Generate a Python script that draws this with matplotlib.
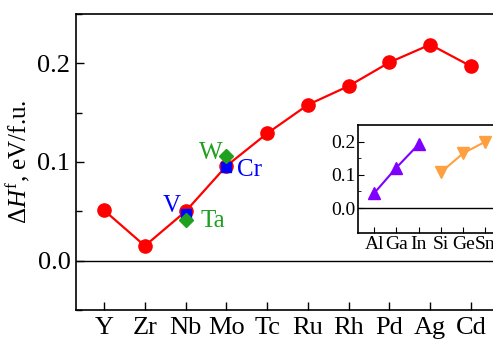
import matplotlib
matplotlib.use('Agg')
import matplotlib.pyplot as plt

plt.rcParams['font.family'] = ['Liberation Serif', 'DejaVu Serif']
plt.rcParams['mathtext.fontset'] = 'custom'
plt.rcParams['mathtext.rm'] = 'Liberation Serif'
plt.rcParams['mathtext.it'] = 'Liberation Serif:italic'

# main series
metals = ['Y', 'Zr', 'Nb', 'Mo', 'Tc', 'Ru', 'Rh', 'Pd', 'Ag', 'Cd']
dH = [0.051, 0.015, 0.050, 0.096, 0.129, 0.158, 0.177, 0.201, 0.219, 0.197]

# substitutions
blue_names = ['V', 'Cr']
blue_pos = [2, 3]
blue_vals = [0.047, 0.095]
green_names = ['Ta', 'W']
green_pos = [2, 3]
green_vals = [0.041, 0.106]

# inset
grp13 = ['Al', 'Ga', 'In']
grp13_vals = [0.045, 0.122, 0.192]
grp14 = ['Si', 'Ge', 'Sn']
grp14_vals = [0.108, 0.165, 0.200]

fig = plt.figure(figsize=(4.93, 3.39), dpi=100)
ax = fig.add_axes([76 / 493, 29 / 339, 1.005 - 76 / 493, 296 / 339])

x = list(range(len(metals)))
ax.plot(x, dH, '-o', color='red', lw=1.6, ms=9.5, zorder=3)
ax.axhline(0, color='black', lw=1)
ax.plot(blue_pos, blue_vals, 's', color='blue', ms=7, zorder=4)
ax.plot(green_pos, green_vals, 'D', color='#1fa01f', ms=7, zorder=4)

ax.text(1.67, 0.055, blue_names[0], color='blue', fontsize=18, ha='center', va='center')
ax.text(3.57, 0.092, blue_names[1], color='blue', fontsize=18, ha='center', va='center')
ax.text(2.66, 0.040, green_names[0], color='#1fa01f', fontsize=18, ha='center', va='center')
ax.text(2.62, 0.109, green_names[1], color='#1fa01f', fontsize=18, ha='center', va='center')

ax.set_xlim(-0.69, 9.6)
ax.set_ylim(-0.05, 0.25)
ax.set_xticks(x)
ax.set_xticklabels(metals)
ax.set_yticks([0.0, 0.1, 0.2])
ax.set_yticks([-0.05, 0.05, 0.15, 0.25], minor=True)
ax.tick_params(direction='in', labelsize=19, length=6, width=1)
ax.tick_params(which='minor', direction='in', length=4, width=1)
ax.tick_params(axis='x', pad=5)
ax.tick_params(axis='y', pad=4)
ax.set_ylabel(r'$\Delta H^{\rm f}$, eV/f.u.', fontsize=18, labelpad=4)
for s in ax.spines.values():
    s.set_linewidth(1.2)

# inset axes
ins = fig.add_axes([358 / 493, 106 / 339, 1.005 - 358 / 493, 108 / 339])
ins.plot([0, 1, 2], grp13_vals, '-^', color='#8000ff', lw=1.5, ms=8)
ins.plot([3, 4, 5], grp14_vals, '-v', color='#ffa040', lw=1.5, ms=8)
ins.axhline(0, color='black', lw=1)
ins.set_xlim(-0.73, 5.45)
ins.set_ylim(-0.075, 0.25)
ins.set_xticks(range(6))
ins.set_xticklabels(grp13 + grp14)
ins.set_yticks([0.0, 0.1, 0.2])
ins.set_yticks([0.05, 0.15], minor=True)
ins.tick_params(direction='in', labelsize=14, length=4, pad=2)
ins.tick_params(which='minor', direction='in', length=2.5)
for s in ins.spines.values():
    s.set_linewidth(1.2)

fig.savefig('out.png', dpi=100)
